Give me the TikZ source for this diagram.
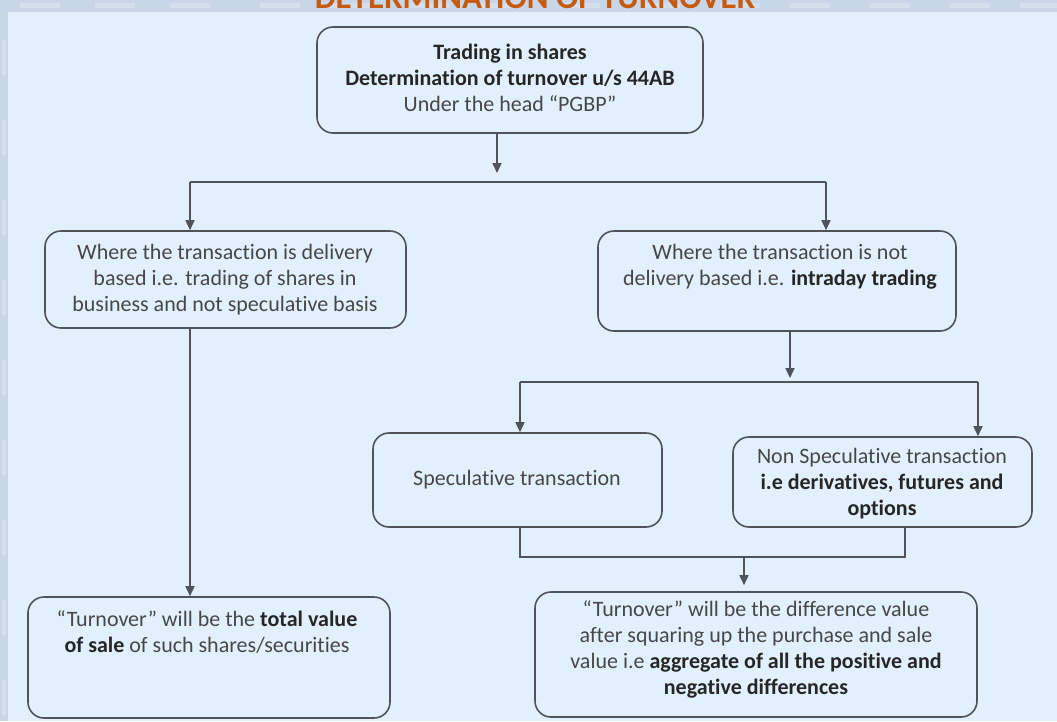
\documentclass[tikz,border=0pt]{standalone}
\usepackage{fontspec}
\setmainfont{Carlito}[Ligatures=NoCommon]
\usetikzlibrary{arrows.meta}
\definecolor{bgpanel}{HTML}{E1F0FC}
\definecolor{bgframe}{HTML}{C7D7E9}
\definecolor{bgstreak}{HTML}{D3DFEC}
\definecolor{linec}{HTML}{4F545B}
\definecolor{txtc}{HTML}{474747}
\definecolor{boldc}{HTML}{262626}
\definecolor{titlec}{HTML}{C65A0E}
\newcommand{\mybold}[1]{{\bfseries\color{boldc}#1}}
\begin{document}
\begin{tikzpicture}[x=1pt,y=-1pt,
  box/.style={draw=linec, line width=1.6pt, rounded corners=16pt, inner sep=0pt},
  txt/.style={text=txtc, font=\fontsize{22}{26}\selectfont, align=center, inner sep=0pt},
  conn/.style={draw=linec, line width=1.6pt},
  arr/.style={conn, -{Triangle[width=9pt,length=10pt]}}]
\useasboundingbox (0,0) rectangle (1057,721);
\clip (0,0) rectangle (1057,721);
% background frame and panel
\fill[bgframe] (0,0) rectangle (1057,721);
\foreach \xx in {20,95,170,260,330,410,480,560,640,720,790,870,950,1020}
  \fill[bgstreak] (\xx,3) rectangle ++(40,5);
\foreach \yy in {40,120,200,280,360,440,520,600,680}
  \fill[bgstreak] (2,\yy) rectangle ++(4,35);
\fill[bgpanel] (8,12) rectangle (1057,721);
\node[text=titlec, font=\fontsize{33}{33}\selectfont\bfseries, anchor=base, inner sep=0pt] (title) at (535,8) {DETERMINATION OF TURNOVER};

% boxes
\node[box, minimum width=386pt, minimum height=106pt] (top) at (510,80) {};
\node[box, minimum width=361pt, minimum height=97pt] (lb2) at (225.5,279.5) {};
\node[box, minimum width=358pt, minimum height=100pt] (rb2) at (777,281) {};
\node[box, minimum width=289pt, minimum height=94pt] (spec) at (517.5,480) {};
\node[box, minimum width=299pt, minimum height=90pt] (nspec) at (882.5,482) {};
\node[box, minimum width=362pt, minimum height=121pt] (lb3) at (209,657.5) {};
\node[box, minimum width=442pt, minimum height=125pt] (rb3) at (756,654.5) {};

% texts
\node[txt] (ttop) at (510,78) {\mybold{Trading in shares}\\ \mybold{Determination of turnover u/s 44AB}\\ Under the head “PGBP”};
\node[txt] (tlb2) at (225,280) {Where the transaction is delivery\\ based i.e. trading of shares in\\ business and not speculative basis};
\node[txt] (trb2) at (780,267) {Where the transaction is not\\ delivery based i.e. \mybold{intraday trading}};
\node[txt] (tspec) at (517,480) {Speculative transaction};
\node[txt] (tnspec) at (882,484) {Non Speculative transaction\\ \mybold{i.e derivatives, futures and}\\ \mybold{options}};
\node[txt] (tlb3) at (207,632) {“Turnover” will be the \mybold{total value}\\ \mybold{of sale} of such shares/securities};
\node[txt] (trb3) at (756,649) {“Turnover” will be the difference value\\ after squaring up the purchase and sale\\ value i.e \mybold{aggregate of all the positive and}\\ \mybold{negative differences}};

% junction coordinates
\coordinate (j1) at (497,182);
\coordinate (j1l) at (190,182);
\coordinate (j1r) at (826,182);
\coordinate (j2) at (790,382);
\coordinate (j2l) at (520,382);
\coordinate (j2r) at (978,382);
\coordinate (j3) at (744,557);
\coordinate (j3l) at (520,557);
\coordinate (j3r) at (905,557);

% connectors
\draw[arr] (top.south -| j1) -- ([yshift=9pt]j1);
\draw[conn] (j1l) -- (j1r);
\draw[arr] (j1l) -- (j1l |- lb2.north);
\draw[arr] (j1r) -- (j1r |- rb2.north);
\draw[arr] (lb2.south -| j1l) -- (j1l |- lb3.north);
\draw[arr] (rb2.south -| j2) -- ([yshift=4pt]j2);
\draw[conn] (j2l) -- (j2r);
\draw[arr] (j2l) -- (j2l |- spec.north);
\draw[arr] (j2r) -- (j2r |- nspec.north);
\draw[conn] (spec.south -| j3l) -- (j3l) -- (j3r) -- (nspec.south -| j3r);
\draw[arr, shorten >=6pt] (j3) -- (j3 |- rb3.north);
\end{tikzpicture}
\end{document}
